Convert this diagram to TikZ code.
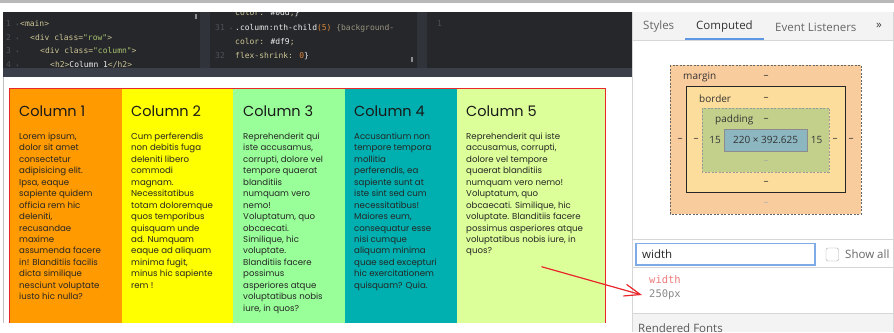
\documentclass[tikz,border=0pt]{standalone}
\usepackage{fontspec}
\newfontfamily\colfont{Poppins}
\newfontfamily\uifont{Open Sans}
\newfontfamily\codefont{DejaVu Sans Mono}
\usetikzlibrary{arrows.meta}
\definecolor{edbg}{HTML}{26272B}
\definecolor{edsep}{HTML}{31333A}
\definecolor{edbar}{HTML}{3B3F49}
\definecolor{codetag}{HTML}{CDC594}
\definecolor{codestr}{HTML}{A9C46F}
\definecolor{codewhite}{HTML}{EDEDED}
\definecolor{codenum}{HTML}{E0873A}
\definecolor{codedim}{HTML}{9A9680}
\definecolor{codeln}{HTML}{4E5158}
\definecolor{colone}{HTML}{FF9A00}
\definecolor{coltwo}{HTML}{FFFF00}
\definecolor{colthree}{HTML}{99FF99}
\definecolor{colfour}{HTML}{00AFAF}
\definecolor{colfive}{HTML}{DDFF99}
\definecolor{rowred}{HTML}{E8262B}
\definecolor{tabbg}{HTML}{F3F3F3}
\definecolor{tabblue}{HTML}{5E97E3}
\definecolor{panelline}{HTML}{D6D6D6}
\definecolor{marginfill}{HTML}{F9CC9D}
\definecolor{borderfill}{HTML}{FDDD9B}
\definecolor{paddingfill}{HTML}{C3D08B}
\definecolor{contentfill}{HTML}{8CB6C0}
\definecolor{boxtext}{HTML}{333333}
\definecolor{propred}{HTML}{EE7B7B}
\definecolor{propgray}{HTML}{8A8A8A}
\definecolor{inputblue}{HTML}{7EAAE6}
\begin{document}
\begin{tikzpicture}[x=1pt,y=-1pt,
    codeline/.style={anchor=base west,inner sep=0pt,font=\codefont\fontsize{8}{10}\selectfont},
    lineno/.style={codeline,text=codeln},
    colhead/.style={anchor=base west,inner sep=0pt,text=black!90,font=\colfont\fontsize{14.5}{17}\selectfont},
    coltext/.style={anchor=north west,inner sep=0pt,align=left,text=black!85,font=\colfont\fontsize{8.6}{11.47}\selectfont},
    tablabel/.style={inner sep=0pt,text=black!60,font=\uifont\fontsize{11.5}{13}\selectfont},
    boxlabel/.style={inner sep=0pt,text=boxtext,font=\uifont\fontsize{10}{12}\selectfont},
    dashmark/.style={boxlabel},
    proptext/.style={anchor=west,inner sep=0pt,font=\codefont\fontsize{10.5}{12}\selectfont},
    boxdash/.style={dash pattern=on 2pt off 1.5pt}]
\useasboundingbox (0,0) rectangle (894,332);

% window frame
\fill[black!28] (0,0) rectangle (894,3);
\fill[white] (0,3) rectangle (894,332);

% code editor
\fill[edbg] (3,12) rectangle (632,68);
\fill[edsep] (200,12) rectangle (210,68);
\fill[edsep] (417,12) rectangle (427,68);
\fill[edbar] (3,68) rectangle (632,77);
\fill[black!45] (194.5,14) rectangle (196.5,19);
\fill[black!45] (410.5,57) rectangle (412.5,62);
\begin{scope}
  \clip (3,12) rectangle (632,68);
  \node[lineno] (ln1) at (6,26.5) {1 \tiny▾};
  \node[lineno] (ln2) at (6,40) {2 \tiny▾};
  \node[lineno] (ln3) at (6,53.5) {3 \tiny▾};
  \node[lineno] (ln4) at (6,67) {4 \tiny▾};
  \node[codeline,text=codetag] (cmain) at (20,26.5) {<main>};
  \node[codeline,text=codetag] (crow) at (30,40) {<div class=\textcolor{codestr}{"row"}>};
  \node[codeline,text=codetag] (ccol) at (40,53.5) {<div class=\textcolor{codestr}{"column"}>};
  \node[codeline,text=codetag] (chtwo) at (50,67) {<h2>\textcolor{codewhite}{Column 1}</h2>};
  \node[codeline,text=codetag] (cfour) at (235,16) {color: \textcolor{codewhite}{\#0dd};\textcolor{codewhite}{\}}};
  \node[lineno] (ln31) at (215,30) {31 \tiny▾};
  \node[codeline,text=codewhite] (cnth) at (235,30) {.column:nth-child\textcolor{codenum}{(5)} \textcolor{codedim}{\{background-}};
  \node[codeline,text=codetag] (cbg) at (235,44) {color: \textcolor{codewhite}{\#df9};};
  \node[lineno] (ln32) at (215,58) {32};
  \node[codeline,text=codetag] (cflex) at (235,58) {flex-shrink: \textcolor{codenum}{0}\textcolor{codewhite}{\}}};
  \node[lineno] (ln1b) at (437,26.5) {1};
\end{scope}

% page preview
\draw[black!25] (3,77) -- (3,323);
\fill[colone] (10,89) rectangle (122,323);
\fill[coltwo] (122,89) rectangle (233,323);
\fill[colthree] (233,89) rectangle (345,323);
\fill[colfour] (345,89) rectangle (457,323);
\fill[colfive] (457,89) rectangle (605.5,323);
\draw[rowred,line width=1.2pt] (9.5,323) |- (605.5,88.8) -- (605.5,323);

\node[colhead] (hone) at (19,116) {Column 1};
\node[colhead] (htwo) at (131,116) {Column 2};
\node[colhead] (hthree) at (243,116) {Column 3};
\node[colhead] (hfour) at (354,116) {Column 4};
\node[colhead] (hfive) at (466,116) {Column 5};

\node[coltext] (tone) at (19,132.5) {Lorem ipsum,\\dolor sit amet\\consectetur\\adipisicing elit.\\Ipsa, eaque\\sapiente quidem\\officia rem hic\\deleniti,\\recusandae\\maxime\\assumenda facere\\in! Blanditiis facilis\\dicta similique\\nesciunt voluptate\\iusto hic nulla?};
\node[coltext] (ttwo) at (131,132.5) {Cum perferendis\\non debitis fuga\\deleniti libero\\commodi\\magnam.\\Necessitatibus\\totam doloremque\\quos temporibus\\quisquam unde\\ad. Numquam\\eaque ad aliquam\\minima fugit,\\minus hic sapiente\\rem !};
\node[coltext] (tthree) at (243,132.5) {Reprehenderit qui\\iste accusamus,\\corrupti, dolore vel\\tempore quaerat\\blanditiis\\numquam vero\\nemo!\\Voluptatum, quo\\obcaecati.\\Similique, hic\\voluptate.\\Blanditiis facere\\possimus\\asperiores atque\\voluptatibus nobis\\iure, in quos?};
\node[coltext] (tfour) at (354,132.5) {Accusantium non\\tempore tempora\\mollitia\\perferendis, ea\\sapiente sunt at\\iste sint sed cum\\necessitatibus!\\Maiores eum,\\consequatur esse\\nisi cumque\\aliquam minima\\quae sed excepturi\\hic exercitationem\\quisquam? Quia.};
\node[coltext] (tfive) at (466,132.5) {Reprehenderit qui iste\\accusamus, corrupti,\\dolore vel tempore\\quaerat blanditiis\\numquam vero nemo!\\Voluptatum, quo\\obcaecati. Similique, hic\\voluptate. Blanditiis facere\\possimus asperiores atque\\voluptatibus nobis iure, in\\quos?};

% devtools panel
\fill[tabbg] (632,12) rectangle (894,40);
\draw[panelline] (632,40) -- (894,40);
\draw[panelline] (632,12) -- (632,332);
\draw[panelline] (893.5,12) -- (893.5,332);
\node[tablabel,anchor=west] (tstyles) at (643,27) {Styles};
\node[tablabel,anchor=west,text=black!80] (tcomp) at (696,27) {Computed};
\node[tablabel,anchor=west] (tevent) at (775,27) {Event Listeners};
\node[tablabel,anchor=west,text=black!75] (tmore) at (876,26) {»};
\draw[tabblue,line width=2pt] (685,39) -- (764,39);

% box model
\draw[black!60,boxdash,fill=marginfill] (670,65) rectangle (861,214);
\draw[black!85,line width=0.9pt,fill=borderfill] (686.7,86.7) rectangle (845,192.7);
\draw[black!40,boxdash,fill=paddingfill] (702,107.7) rectangle (829,171.7);
\draw[black!45,fill=contentfill] (724.3,129) rectangle (807,150.7);
\node[boxlabel,anchor=west] (lmargin) at (683,77) {margin};
\node[boxlabel,anchor=west] (lborder) at (699,98.6) {border};
\node[boxlabel,anchor=west] (lpadding) at (715,120) {padding};
\node[boxlabel] (lsize) at (765.6,140) {220 × 392.625};
\node[dashmark] (mtop) at (766,77) {–};
\node[dashmark] (btop) at (766,98.6) {–};
\node[dashmark] (ptop) at (766,120) {–};
\node[dashmark] (mleft) at (680,140) {–};
\node[dashmark] (bleft) at (696,140) {–};
\node[boxlabel] (pleft) at (715,140) {15};
\node[boxlabel] (pright) at (816.5,140) {15};
\node[dashmark] (bright) at (835,140) {–};
\node[dashmark] (mright) at (851,140) {–};
\node[dashmark,text=black!35] (pbottom) at (766,161.7) {–};
\node[dashmark] (bbottom) at (766,183) {–};
\node[dashmark,text=black!30] (mbottom) at (766,204.3) {–};

% filter and property
\draw[panelline] (632,239) -- (894,239);
\draw[inputblue,line width=1.2pt] (636,243.5) rectangle (815,265);
\node[tablabel,anchor=west,text=black!85] (filter) at (642,254) {width};
\draw[black!35,rounded corners=2pt,fill=white] (826,248) rectangle (838.5,261);
\node[tablabel,anchor=west] (showall) at (845,254.5) {Show all};
\draw[panelline] (632,267.5) -- (894,267.5);
\node[proptext,text=propred] (propname) at (649,280) {width};
\node[proptext,text=propgray] (propval) at (649,295) {250px};
\fill[tabbg] (632.5,313) rectangle (893,332);
\draw[panelline] (632,312.7) -- (894,312.7);
\node[tablabel,anchor=north west,text=black!65] (fonts) at (638,323.5) {Rendered Fonts};

% pointer
\coordinate (arrstart) at (541.5,266.7);
\coordinate (arrtip) at ([xshift=-7pt]propval.west);
\draw[rowred,line width=1.2pt,-{Straight Barb[length=16pt,width=12pt]}] (arrstart) -- (arrtip);
\end{tikzpicture}
\end{document}
